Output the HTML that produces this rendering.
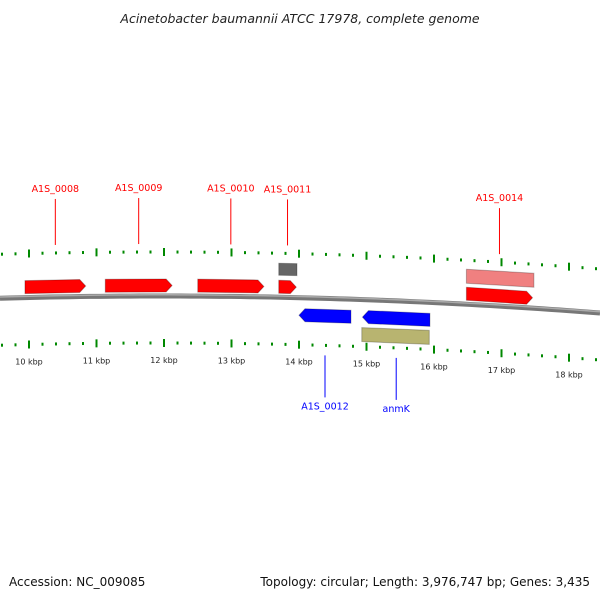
<!DOCTYPE html>
<html><head><meta charset="utf-8"><style>
body{margin:0;background:#fff;}
svg{display:block;font-family:"DejaVu Sans","Liberation Sans",sans-serif;}
</style></head><body>
<svg id="chart" width="600" height="600" viewBox="0 0 600 600" xmlns="http://www.w3.org/2000/svg">
<text x="300" y="23" text-anchor="middle" font-size="12.5" font-style="italic" fill="#222">Acinetobacter baumannii ATCC 17978, complete genome</text>
<g id="ticks"></g>
<path id="backbone" fill="none" stroke="#777" stroke-width="5"/>
<path id="backbone-hl" fill="none" stroke="#aaa" stroke-width="1.5"/>
<g id="genes"></g>
<text x="9" y="586" font-size="12" fill="#111">Accession: NC_009085</text>
<text x="590" y="586" text-anchor="end" font-size="12" fill="#111">Topology: circular; Length: 3,976,747 bp; Genes: 3,435</text>
</svg>
<script>
const NS="http://www.w3.org/2000/svg";
const tickKbp=[10,11,12,13,14,15,16,17,18];
const geneNames=["A1S_0008","A1S_0009","A1S_0010","A1S_0011","A1S_0012","anmK","A1S_0014"];
const geneStart=[9.94,11.13,12.5,13.70,14.0,14.94,16.48];
const geneEnd=[10.84,12.12,13.48,13.96,14.77,15.94,17.46];
const geneStrand=[1,1,1,1,-1,-1,1];
const xs=k=>29+(k-10)*67.5;
const yb=x=>296+(x-160)*(x-160)/11388;
function mk(t,a,p){const e=document.createElementNS(NS,t);for(const k in a)e.setAttribute(k,a[k]);(p||document.getElementById('chart')).appendChild(e);return e;}
let d="",d2="";for(let x=0;x<=600;x+=10){d+=(x?"L":"M")+x+" "+yb(x).toFixed(2);d2+=(x?"L":"M")+x+" "+(yb(x)-1.2).toFixed(2);}
document.getElementById('backbone').setAttribute('d',d);
document.getElementById('backbone-hl').setAttribute('d',d2);
const tg=document.getElementById('ticks');
for(let k=9.6;k<=18.5;k+=0.2){
 const kk=Math.round(k*5)/5; const x=xs(kk); if(x<0||x>600)continue;
 const major=Math.abs(kk-Math.round(kk))<0.01;
 const len=major?8:3;
 for(const off of [-44,47]){
  const yc=yb(x)+off;
  const l=mk('line',{x1:x,x2:x,y1:yc-len/2,y2:yc+len/2,stroke:'#080','stroke-width':2},tg);
  
  
 }
}
tickKbp.forEach(k=>{const x=xs(k);
 const t=mk('text',{x:x,y:yb(x)+67,'text-anchor':'middle','font-size':8,fill:'#222'},tg);
 t.textContent=k+" kbp";
 
 });
const gg=document.getElementById('genes');
function bar(x1,x2,off,h,fill,arrow,name){
 const y1=yb(x1)+off,y2=yb(x2)+off,a=6;
 let pts;
 if(arrow===1)pts=[[x1,y1],[x2-a,y2],[x2,y2+h/2],[x2-a,y2+h],[x1,y1+h]];
 else if(arrow===-1)pts=[[x1+a,y1],[x2,y2],[x2,y2+h],[x1+a,y1+h],[x1,y1+h/2]];
 else pts=[[x1,y1],[x2,y2],[x2,y2+h],[x1,y1+h]];
 const p=mk('polygon',{points:pts.map(q=>q.join(',')).join(' '),fill:fill,stroke:'rgba(0,0,0,0.25)','stroke-width':1},gg);
 
 
 return Math.min(y1,y2);
}
geneNames.forEach((n,i)=>{
 const x1=xs(geneStart[i]),x2=xs(geneEnd[i]),xm=(x1+x2)/2,fw=geneStrand[i]===1;
 const col=fw?'#f00':'#00f';
 bar(x1,x2,fw?-17:11,13,col,geneStrand[i],'gene-'+n);
 let lab,ly1,ly2;
 if(fw){ly2=yb(xm)-52;ly1=ly2-46;lab=ly1-7;}
 else{ly1=yb(xm)+57;ly2=ly1+42;lab=ly2+12;}
 const l=mk('line',{x1:xm,x2:xm,y1:ly1,y2:ly2,stroke:col,'stroke-width':1},gg);
 
 
 const t=mk('text',{x:xm,y:lab,'text-anchor':'middle','font-size':9.5,fill:col},gg);
 t.textContent=n;
 
 
});
bar(xs(13.70),xs(13.97),-34,12,'#666',0,'feature-gray');
bar(xs(14.93),xs(15.93),28,14,'#b8b470',0,'feature-olive');
bar(xs(16.48),xs(17.48),-35,14,'#f08080',0,'feature-pink');
</script>
</body></html>
